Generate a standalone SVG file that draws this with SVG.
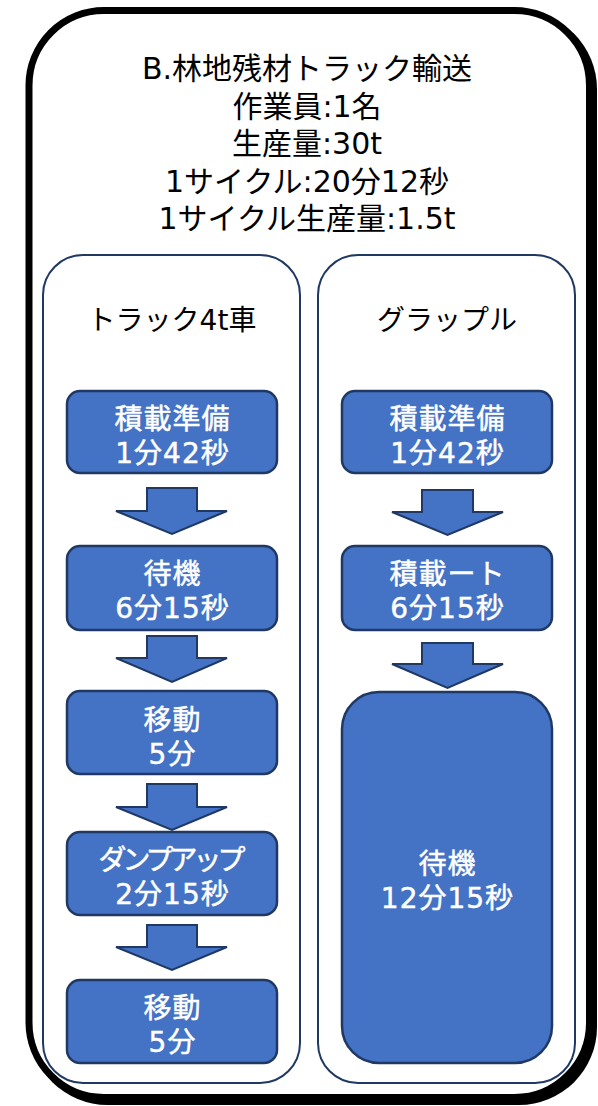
<svg xmlns="http://www.w3.org/2000/svg" width="598" height="1106" viewBox="0 0 598 1106">
<style>
.frame{fill:#fff;stroke:#000;stroke-width:7}
.panel{fill:#fff;stroke:#1F3864;stroke-width:2}
.box{fill:#4472C4;stroke:#1F3864;stroke-width:2.5}
.arrow{fill:#4472C4;stroke:#1F3864;stroke-width:2;stroke-linejoin:miter}
.t{font-family:"DejaVu Sans","Noto Sans CJK JP",sans-serif;text-anchor:middle;fill:#000}
.title{font-size:30px}
.head{font-size:28px}
.bt{font-family:"DejaVu Sans","Noto Sans CJK JP",sans-serif;text-anchor:middle;fill:#fff;stroke:#fff;stroke-width:0.5;font-size:28px;letter-spacing:1px}
.narrow{letter-spacing:-4px}
</style>
<g id="outer">
<rect x="29.5" y="11" width="567.5" height="1094" rx="78" fill="#000"/>
<rect class="frame" x="29" y="10.5" width="560.5" height="1087" rx="75"/>
<text class="t title" x="307" y="79">B.林地残材トラック輸送</text>
<text class="t title" x="307" y="116.5">作業員:1名</text>
<text class="t title" x="307" y="154">生産量:30t</text>
<text class="t title" x="307" y="191.5">1サイクル:20分12秒</text>
<text class="t title" x="307" y="229">1サイクル生産量:1.5t</text>
</g>
<g id="panel-truck">
<rect class="panel" x="43" y="255" width="257" height="828" rx="40"/>
<text class="t head" x="172" y="330">トラック4t車</text>
</g>
<g id="panel-grapple">
<rect class="panel" x="318" y="255" width="257" height="828" rx="40"/>
<text class="t head" x="447" y="330">グラップル</text>
</g>
<g id="t1">
<rect class="box" x="67" y="391" width="210" height="82" rx="13"/>
<text class="bt" x="172.5" y="429">積載準備</text>
<text class="bt" x="172.5" y="463">1分42秒</text>
</g>
<g id="t2">
<rect class="box" x="67" y="546" width="210" height="84" rx="13"/>
<text class="bt" x="172.5" y="584">待機</text>
<text class="bt" x="172.5" y="618">6分15秒</text>
</g>
<g id="t3">
<rect class="box" x="67" y="691" width="210" height="83" rx="13"/>
<text class="bt" x="172.5" y="730">移動</text>
<text class="bt" x="172.5" y="764">5分</text>
</g>
<g id="t4">
<rect class="box" x="67" y="832" width="210" height="83" rx="13"/>
<text class="bt narrow" x="170" y="870">ダンプアップ</text>
<text class="bt" x="172.5" y="904">2分15秒</text>
</g>
<g id="t5">
<rect class="box" x="67" y="980" width="210" height="83" rx="13"/>
<text class="bt" x="172.5" y="1018">移動</text>
<text class="bt" x="172.5" y="1052">5分</text>
</g>
<g id="g1">
<rect class="box" x="342" y="391" width="210" height="82" rx="13"/>
<text class="bt" x="447.5" y="429">積載準備</text>
<text class="bt" x="447.5" y="463">1分42秒</text>
</g>
<g id="g2">
<rect class="box" x="342" y="546" width="210" height="84" rx="13"/>
<text class="bt" x="447.5" y="584">積載ート</text>
<text class="bt" x="447.5" y="618">6分15秒</text>
</g>
<g id="g3">
<rect class="box" x="342" y="692" width="210" height="371" rx="37"/>
<text class="bt" x="447.5" y="874">待機</text>
<text class="bt" x="447.5" y="908">12分15秒</text>
</g>
<g id="connectors">
<polygon class="arrow" points="147,488 197,488 197,511 227,511 172,534 116,511 147,511"/>
<polygon class="arrow" points="147,636 197,636 197,658 227,658 172,682 116,658 147,658"/>
<polygon class="arrow" points="147,784 197,784 197,807 227,807 172,830 116,807 147,807"/>
<polygon class="arrow" points="147,925 197,925 197,947 227,947 172,970 116,947 147,947"/>
<polygon class="arrow" points="422,490 473,490 473,512 503,512 447.5,535 392,512 422,512"/>
<polygon class="arrow" points="422,643 473,643 473,664 503,664 447.5,688 392,664 422,664"/>
</g>
</svg>
